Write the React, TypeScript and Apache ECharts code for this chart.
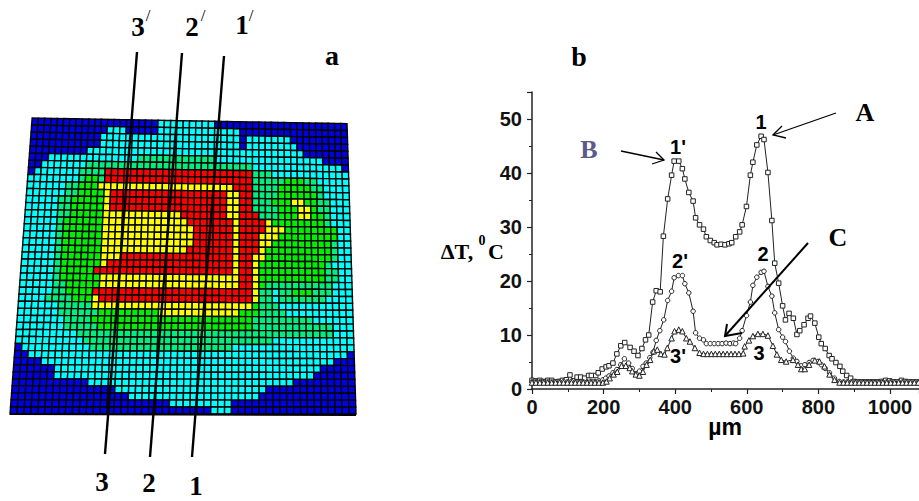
import React, { useEffect, useRef } from "react";
import * as echarts from "echarts";

const xAxisName = "µm";
const yAxisName = "ΔT,";

// Profile 1 (squares): [µm, ΔT]
const profile1: number[][] = [
  [0,1.6],[11,1.5],[22,1.6],[33,1.4],[44,1.6],[55,1.6],[66,1.3],[76,1.4],[85,1.6],[96,1.7],[106,2.6],[116,1.5],[126,2.2],[136,2.2],[147,2.0],[158,2.5],[166,2.5],[178,2.5],[185,3.0],[196,3.7],[207,4.1],[215,4.3],[226,4.8],[237,6.5],[248,8.0],[259,8.6],[274,7.7],[285,7.0],[296,6.2],[307,7.5],[317,9.1],[326,10.0],[337,16.1],[347,18.2],[358,18.0],[367,28.3],[379,35.2],[390,39.6],[397,42.2],[410,42.2],[420,40.8],[427,38.9],[438,36.4],[450,34.8],[457,31.7],[468,30.4],[479,29.6],[487,28.2],[498,27.5],[509,27.1],[517,26.7],[528,26.8],[539,26.7],[550,26.9],[558,27.1],[569,28.2],[580,29.1],[587,30.4],[599,33.8],[610,39.6],[617,42.0],[628,45.2],[640,46.8],[648,46.2],[659,40.1],[670,31.2],[678,23.3],[689,19.6],[700,15.4],[708,12.8],[718,14.0],[730,13.1],[740,10.1],[748,10.8],[760,11.9],[771,13.1],[778,13.5],[790,12.2],[801,9.6],[808,8.4],[819,7.5],[830,6.2],[838,5.6],[849,4.9],[860,4.2],[868,3.3],[879,2.5],[890,2.0],[900,1.4],[911,1.3],[922,1.3],[933,1.3],[944,1.3],[955,1.3],[966,1.3],[977,1.4],[988,1.6],[999,1.5],[1010,1.3],[1021,1.3],[1032,1.6],[1043,1.4],[1054,1.3],[1065,1.3],[1076,1.3],
];

// Profile 2 (circles)
const profile2: number[][] = [
  [0,1.3],[11,1.3],[22,1.3],[33,1.3],[44,1.3],[55,1.3],[66,1.3],[77,1.3],[88,1.4],[99,1.3],[110,1.4],[121,1.3],[132,1.3],[143,1.3],[154,1.3],[165,1.4],[176,1.4],[187,1.5],[198,1.7],[206,2.0],[215,2.4],[226,3.0],[237,3.6],[248,4.5],[258,5.6],[270,4.8],[280,3.8],[291,2.8],[300,3.3],[310,4.2],[319,4.8],[329,5.8],[338,6.8],[347,9.0],[357,10.8],[368,12.8],[379,16.4],[390,18.1],[397,20.6],[409,21.0],[420,21.0],[427,19.5],[438,17.8],[450,14.4],[457,10.4],[468,9.4],[479,9.1],[487,8.4],[498,8.4],[509,8.4],[520,8.4],[531,8.4],[542,8.5],[553,8.4],[563,8.5],[569,8.4],[580,9.4],[587,10.8],[599,13.6],[610,16.1],[617,19.2],[628,20.7],[640,21.6],[648,21.8],[659,19.0],[670,17.2],[678,14.1],[689,11.0],[700,9.6],[708,8.8],[719,7.0],[730,5.7],[740,5.1],[752,4.3],[762,4.5],[774,4.9],[785,5.3],[799,5.1],[808,4.5],[819,3.8],[831,3.0],[845,2.0],[859,1.4],[870,1.3],[881,1.3],[892,1.3],[903,1.3],[914,1.3],[925,1.3],[936,1.3],[947,1.3],[958,1.3],[969,1.3],[980,1.3],[991,1.3],[1002,1.3],[1013,1.3],[1024,1.3],[1035,1.3],[1046,1.3],[1057,1.3],[1068,1.3],[1079,1.3],
];

// Profile 3 (triangles)
const profile3: number[][] = [
  [0,1.2],[11,1.2],[22,1.2],[33,1.2],[44,1.2],[55,1.2],[66,1.2],[77,1.2],[88,1.2],[99,1.2],[110,1.2],[121,1.2],[132,1.2],[143,1.2],[154,1.2],[165,1.2],[176,1.2],[187,1.2],[198,1.2],[208,1.4],[217,2.0],[228,2.7],[238,3.2],[250,4.3],[262,4.3],[273,3.9],[280,3.3],[290,2.7],[300,2.5],[310,3.2],[320,4.5],[330,5.4],[340,7.0],[350,7.3],[360,6.5],[370,6.4],[378,7.6],[390,9.4],[398,10.7],[410,11.0],[420,10.7],[431,9.4],[441,8.8],[455,7.6],[468,6.7],[479,6.5],[490,6.5],[501,6.5],[512,6.5],[523,6.5],[534,6.5],[545,6.5],[556,6.5],[567,6.5],[578,6.5],[590,6.6],[594,7.9],[606,9.0],[617,9.8],[631,10.2],[645,10.2],[659,9.9],[673,8.0],[684,6.4],[696,5.4],[710,5.1],[729,5.4],[743,4.5],[752,3.7],[762,3.7],[774,4.5],[790,5.3],[803,5.1],[817,4.2],[831,2.7],[845,1.7],[859,1.2],[870,1.2],[881,1.2],[892,1.2],[903,1.2],[914,1.2],[925,1.2],[936,1.2],[947,1.2],[958,1.2],[969,1.2],[980,1.2],[991,1.2],[1002,1.2],[1013,1.2],[1024,1.2],[1035,1.2],[1046,1.2],[1057,1.2],[1068,1.2],[1079,1.2],
];

// Surface plot levels, per row as level,endColumn pairs
const levelColors = ["#0000e0", "#00ffff", "#00ee80", "#00ee00", "#ffff00", "#ff0000"];
const surfaceRuns: number[][] = [
  [0,20,1,29,0,50],
  [0,12,1,15,0,20,1,33,0,50],
  [0,11,1,33,0,34,1,41,0,50],
  [0,11,1,33,0,34,1,42,0,50],
  [0,9,1,43,0,50],
  [0,3,1,17,2,29,1,46,0,50],
  [0,2,1,9,2,35,1,49,0,50],
  [0,1,1,8,2,12,5,35,2,38,1,50],
  [1,8,2,9,3,11,2,12,5,35,2,40,3,43,2,45,1,50],
  [1,6,2,8,3,11,4,32,5,35,2,39,3,44,2,46,1,50],
  [1,6,2,8,3,12,4,13,5,31,4,33,5,35,2,39,3,45,2,46,1,50],
  [1,5,2,7,3,12,4,13,5,31,4,33,5,35,2,38,3,41,4,43,3,45,2,47,1,50],
  [1,5,2,7,3,12,4,13,5,31,4,33,5,35,2,39,3,42,4,44,3,45,2,47,1,50],
  [1,5,2,7,3,12,4,24,5,31,4,33,5,36,2,39,3,42,4,44,3,46,2,47,1,50],
  [1,5,2,6,3,12,4,25,5,32,4,33,5,37,4,38,3,46,2,47,1,50],
  [1,5,2,6,3,12,4,26,5,32,4,33,5,37,4,40,3,48,1,50],
  [1,5,2,6,3,12,4,26,5,32,4,33,5,36,4,39,3,48,1,50],
  [1,5,2,6,3,12,4,26,5,32,4,33,5,36,4,38,3,47,2,48,1,50],
  [1,5,2,6,3,12,4,25,5,32,4,33,5,36,4,37,3,47,2,48,1,50],
  [1,5,2,6,3,12,4,15,5,32,4,33,5,35,4,37,3,47,2,48,1,50],
  [1,5,2,6,3,12,4,13,5,32,4,33,5,35,4,36,3,46,2,47,1,50],
  [1,5,2,6,3,11,5,32,4,33,5,35,4,36,3,46,2,48,1,50],
  [1,5,2,6,3,12,4,33,5,35,4,36,3,46,2,48,1,50],
  [1,5,2,7,3,12,4,33,5,35,4,36,3,37,2,47,1,50],
  [1,5,2,7,3,11,5,35,4,36,2,38,1,39,2,41,3,44,2,47,1,50],
  [1,4,2,8,3,11,4,12,5,35,4,36,2,38,1,39,2,46,1,50],
  [1,6,2,11,4,35,3,36,2,39,1,50],
  [1,6,2,12,3,21,4,33,3,36,2,40,1,50],
  [1,7,2,11,3,35,2,44,1,50],
  [1,7,2,12,3,35,2,47,1,50],
  [1,9,2,47,1,50],
  [1,10,2,38,1,50],
  [0,1,1,11,2,32,1,50],
  [0,2,1,49,0,50],
  [0,4,1,47,0,50],
  [0,6,1,45,0,50],
  [0,6,1,44,0,50],
  [0,11,1,41,0,50],
  [0,15,1,37,0,50],
  [0,17,1,36,0,50],
  [0,23,1,32,0,50],
  [0,29,1,32,0,50],
];

const COLS = 50;
const ROWS = surfaceRuns.length;
const surfaceCells: number[][] = [];
surfaceRuns.forEach((runs, row) => {
  let col = 0;
  for (let i = 0; i < runs.length; i += 2) {
    for (; col < runs[i + 1]; col++) surfaceCells.push([col, row, runs[i]]);
  }
});

// Surface outline corners in grid units (column, row) of the plot box
const cornerTL = [3.2, 0];
const cornerTR = [48.7, 0.8];
const cornerBL = [0, 42];
const cornerBR = [50, 42];
const lerp = (a: number, b: number, t: number) => a + (b - a) * t;
const project = (c: number, r: number) => {
  const u = c / COLS;
  const v = r / ROWS;
  return [
    lerp(lerp(cornerTL[0], cornerTR[0], u), lerp(cornerBL[0], cornerBR[0], u), v),
    lerp(lerp(cornerTL[1], cornerTR[1], u), lerp(cornerBL[1], cornerBR[1], u), v),
  ];
};

const serif = "'Liberation Serif'";
const sans = "'Liberation Sans'";
const label = (text: string, x: number, y: number, size: number, family = serif, fill = "#000", weight = "bold") => ({
  type: "text",
  x,
  y,
  z: 50,
  style: { text, fill, font: `${weight} ${size}px ${family}`, textAlign: "center", textVerticalAlign: "middle" },
});
const seg = (x1: number, y1: number, x2: number, y2: number, w = 1.3) => ({
  type: "line",
  z: 40,
  shape: { x1, y1, x2, y2 },
  style: { stroke: "#000", lineWidth: w },
});
const head = (pts: number[][], w = 1.3) => ({
  type: "polyline",
  z: 40,
  shape: { points: pts },
  style: { stroke: "#000", lineWidth: w, fill: "none" },
});

const lineSeries = (data: number[][], symbol: string, size: number, name: string) => ({
  type: "line",
  name,
  data,
  xAxisIndex: 0,
  yAxisIndex: 0,
  symbol,
  symbolSize: size,
  showAllSymbol: true,
  smooth: false,
  lineStyle: { color: "#222", width: 1 },
  itemStyle: { color: "#fff", borderColor: "#222", borderWidth: 1 },
  clip: false,
});

export default function App() {
  const ref = useRef<HTMLDivElement>(null);
  useEffect(() => {
    document.body.style.margin = "0";
    const chart = echarts.init(ref.current!, null, { renderer: "svg" });
    const axisText = { color: "#111", fontFamily: sans, fontWeight: "bold", fontSize: 20 };
    chart.setOption({
      animation: false,
      backgroundColor: "#fff",
      grid: [
        { left: 532, right: 0, top: 92, bottom: 112, containLabel: false },
        { left: 10, width: 346, top: 118, height: 296 },
      ],
      xAxis: [
        {
          type: "value", gridIndex: 0, min: 0, max: 1081, interval: 200,
          splitLine: { show: false },
          axisLine: { lineStyle: { color: "#222", width: 1.5 } },
          axisTick: { length: 5, lineStyle: { color: "#222", width: 1.2 } },
          minorTick: { show: true, splitNumber: 2, length: 3, lineStyle: { color: "#222" } },
          axisLabel: { ...axisText, margin: 8, showMaxLabel: false, formatter: (v: number) => String(v) },
        },
        { type: "value", gridIndex: 1, min: 0, max: COLS, show: false },
      ],
      yAxis: [
        {
          type: "value", gridIndex: 0, min: 0, max: 55, interval: 10,
          splitLine: { show: false },
          axisLine: { lineStyle: { color: "#222", width: 1.5 } },
          axisTick: { length: 5, lineStyle: { color: "#222", width: 1.2 } },
          minorTick: { show: true, splitNumber: 2, length: 3, lineStyle: { color: "#222" } },
          axisLabel: { ...axisText, margin: 10, showMaxLabel: false },
        },
        { type: "value", gridIndex: 1, min: 0, max: ROWS, inverse: true, show: false },
      ],
      series: [
        {
          type: "custom",
          name: "surface",
          xAxisIndex: 1,
          yAxisIndex: 1,
          data: surfaceCells,
          clip: false,
          encode: { x: 0, y: 1 },
          renderItem: (_: any, api: any) => {
            const c = api.value(0);
            const r = api.value(1);
            const pts = [project(c, r), project(c + 1, r), project(c + 1, r + 1), project(c, r + 1)].map((p) =>
              api.coord(p)
            );
            return {
              type: "polygon",
              shape: { points: pts },
              style: { fill: levelColors[api.value(2)], stroke: "#050505", lineWidth: 1.4 },
            };
          },
        },
        lineSeries(profile1, "rect", 4.5, "1"),
        lineSeries(profile2, "circle", 4.5, "2"),
        lineSeries(profile3, "triangle", 5.5, "3"),
      ],
      graphic: [
        // section lines on the surface
        seg(137, 52, 105, 454, 2.4),
        seg(182, 53, 150, 457, 2.4),
        seg(224, 56, 192, 457, 2.4),
        seg(10, 414, 356, 415, 2.2),
        label("3", 138, 27, 27), label("/", 148, 15, 17, serif, "#000", "normal"),
        label("2", 192, 27, 27), label("/", 203, 15, 17, serif, "#000", "normal"),
        label("1", 242, 25, 27), label("/", 251, 15, 17, serif, "#000", "normal"),
        label("3", 102, 482, 27), label("2", 149, 483, 27), label("1", 196, 486, 27),
        label("a", 332, 55, 28), label("b", 579, 56, 28),
        // curve labels
        label("1", 761, 122, 20, sans), label("1'", 678, 147, 20, sans),
        label("2'", 680, 261, 20, sans), label("2", 763, 254, 20, sans),
        label("3'", 678, 356, 20, sans), label("3", 759, 353, 20, sans),
        label("A", 865, 112, 26), label("B", 589, 149, 26, serif, "#5b5b8b"), label("C", 838, 237, 26),
        // axis names
        label(yAxisName, 457, 251, 22), label("0", 482, 240, 14), label("C", 496, 251, 22),
        label(xAxisName, 725, 427, 23, sans),
        // arrows
        seg(836, 113, 773, 135), head([[782, 126], [773, 135], [786, 138]]),
        seg(621, 151, 664, 160), head([[656, 152], [664, 160], [652, 164]]),
        seg(808, 243, 725, 336, 2), head([[727, 324], [725, 336], [742, 333]], 2),
      ],
    });
    return () => chart.dispose();
  }, []);
  return <div ref={ref} style={{ position: "fixed", left: 0, top: 0, width: 919, height: 501 }} />;
}
